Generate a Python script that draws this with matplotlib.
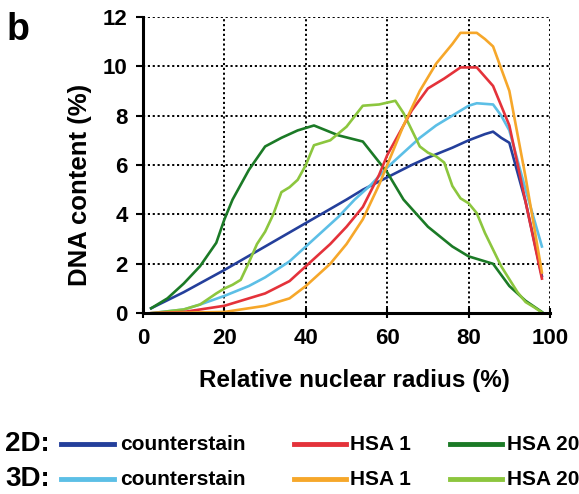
import matplotlib
matplotlib.use("Agg")
import matplotlib.pyplot as plt
from matplotlib.lines import Line2D

# 2D counterstain
cs2d_x = [2, 10, 20, 30, 40, 50, 54, 60, 66, 70, 76, 80, 84, 86, 88, 90, 94, 98]
cs2d_y = [0.2, 0.85, 1.75, 2.7, 3.65, 4.6, 5.0, 5.5, 6.0, 6.3, 6.7, 7.0, 7.25, 7.35, 7.1, 6.9, 4.5, 1.5]
# 3D counterstain
cs3d_x = [2, 10, 14, 20, 26, 30, 36, 40, 44, 48, 52, 56, 60, 64, 68, 72, 76, 80, 82, 86, 88, 90, 94, 98]
cs3d_y = [0.0, 0.15, 0.35, 0.7, 1.1, 1.45, 2.1, 2.7, 3.3, 3.9, 4.6, 5.2, 5.9, 6.5, 7.1, 7.6, 8.0, 8.4, 8.5, 8.45, 8.0, 7.4, 5.0, 2.7]
# 2D HSA 1
h1_2d_x = [2, 10, 20, 30, 36, 40, 46, 50, 54, 58, 60, 62, 66, 70, 74, 78, 82, 86, 90, 94, 98]
h1_2d_y = [0.0, 0.05, 0.3, 0.8, 1.3, 1.9, 2.8, 3.5, 4.3, 5.6, 6.4, 7.0, 8.2, 9.1, 9.5, 9.95, 9.95, 9.2, 7.6, 4.5, 1.4]
# 3D HSA 1
h1_3d_x = [2, 20, 30, 36, 40, 46, 50, 54, 58, 60, 64, 68, 72, 76, 78, 82, 84, 86, 90, 94, 98]
h1_3d_y = [0.0, 0.05, 0.3, 0.6, 1.1, 2.0, 2.8, 3.8, 5.2, 6.0, 7.6, 9.0, 10.1, 10.9, 11.35, 11.35, 11.1, 10.8, 9.0, 5.5, 1.65]
# 2D HSA 20
h20_2d_x = [2, 6, 10, 14, 18, 20, 22, 26, 30, 34, 38, 40, 42, 48, 54, 60, 64, 70, 76, 80, 86, 90, 94, 98]
h20_2d_y = [0.2, 0.6, 1.2, 1.9, 2.85, 3.8, 4.6, 5.8, 6.75, 7.1, 7.4, 7.5, 7.6, 7.2, 6.95, 5.7, 4.6, 3.5, 2.7, 2.3, 2.0, 1.1, 0.5, 0.05]
# 3D HSA 20
h20_3d_x = [2, 10, 14, 18, 20, 22, 24, 26, 28, 30, 32, 34, 36, 38, 40, 42, 46, 50, 54, 58, 62, 64, 68, 70, 72, 74, 76, 78, 80, 82, 84, 88, 92, 94, 96, 98]
h20_3d_y = [0.0, 0.15, 0.35, 0.8, 1.0, 1.15, 1.35, 2.05, 2.8, 3.3, 4.0, 4.9, 5.1, 5.4, 6.0, 6.8, 7.0, 7.55, 8.4, 8.45, 8.6, 8.1, 6.75, 6.5, 6.35, 6.1, 5.15, 4.65, 4.45, 4.05, 3.25, 1.9, 0.85, 0.45, 0.25, 0.03]

xticks = [0, 20, 40, 60, 80, 100]
yticks = [0, 2, 4, 6, 8, 10, 12]

c_cs2d = "#243f9b"
c_cs3d = "#5cbfe6"
c_h1_2d = "#e4323a"
c_h1_3d = "#f6a72a"
c_h20_2d = "#1b7a26"
c_h20_3d = "#8cc63e"

plt.rcParams["font.family"] = ["Liberation Sans", "DejaVu Sans"]

fig = plt.figure(figsize=(5.79, 4.94), dpi=100)
ax = fig.add_axes([0.247, 0.366, 0.703, 0.600])

lw = 1.9
ax.plot(cs2d_x, cs2d_y, color=c_cs2d, lw=lw)
ax.plot(cs3d_x, cs3d_y, color=c_cs3d, lw=lw)
ax.plot(h20_2d_x, h20_2d_y, color=c_h20_2d, lw=lw)
ax.plot(h20_3d_x, h20_3d_y, color=c_h20_3d, lw=lw)
ax.plot(h1_2d_x, h1_2d_y, color=c_h1_2d, lw=lw)
ax.plot(h1_3d_x, h1_3d_y, color=c_h1_3d, lw=lw)

ax.set_xlim(0, 100)
ax.set_ylim(0, 12)
ax.set_xticks(xticks)
ax.set_yticks(yticks)
ax.grid(True, color="black", linestyle=(0, (1.1, 1.4)), linewidth=1.4)
for s in ["top", "right"]:
    ax.spines[s].set_visible(False)
for s in ["left", "bottom"]:
    ax.spines[s].set_linewidth(2.2)
ax.tick_params(axis="x", direction="inout", length=7, width=1.5, labelsize=16, pad=7)
ax.tick_params(axis="y", direction="out", length=5, width=1.5, labelsize=16, pad=6)
for lab in ax.get_xticklabels() + ax.get_yticklabels():
    lab.set_fontweight("bold")
ax.set_axisbelow(True)
ax.set_xlabel("Relative nuclear radius (%)", fontsize=17.5, fontweight="bold", va="center")
ax.set_ylabel("DNA content (%)", fontsize=18.5, fontweight="bold", va="center")
ax.xaxis.set_label_coords(0.52, -0.226)
ax.yaxis.set_label_coords(-0.155, 0.432)

fig.text(0.012, 0.975, "b", fontsize=27, fontweight="bold", va="top", ha="left")

# legend block
W, H = 579.0, 494.0
rows = [(444, "2D:", [c_cs2d, c_h1_2d, c_h20_2d]), (479, "3D:", [c_cs3d, c_h1_3d, c_h20_3d])]
labels = ["counterstain", "HSA 1", "HSA 20"]
line_x = [(61, 114), (294, 346), (450, 502)]
text_x = [120, 350, 507]
for ypix, head, cols in rows:
    yf = 1 - ypix / H
    fig.text(5 / W, yf, head, fontsize=20, fontweight="bold", va="center", ha="left")
    for (x0, x1), tx, col, lab in zip(line_x, text_x, cols, labels):
        fig.add_artist(Line2D([x0 / W, x1 / W], [yf, yf], transform=fig.transFigure, color=col, lw=3.5))
        fig.text(tx / W, yf, lab, fontsize=15, fontweight="bold", va="center", ha="left")

fig.savefig("out.png", dpi=100)
